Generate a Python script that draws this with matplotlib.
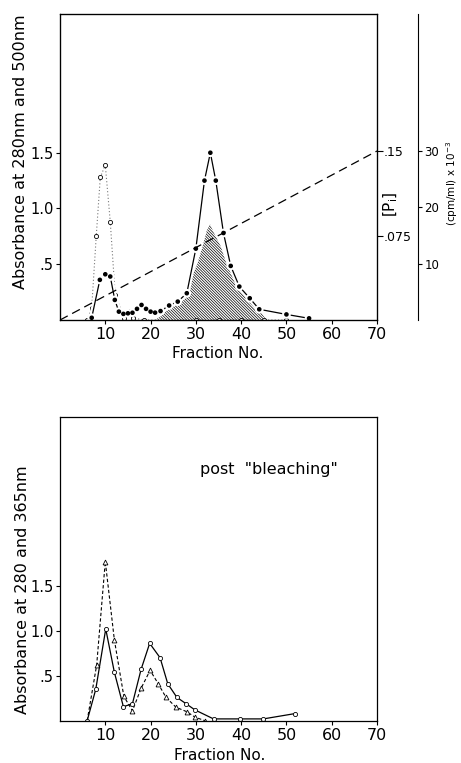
import matplotlib.pyplot as plt
import matplotlib.patheffects as pe

plt.rcParams['font.family'] = ['DejaVu Sans']
plt.rcParams['hatch.linewidth'] = 0.5

# upper panel: absorbance 280nm (filled dots), 500nm (open circles)
frac_280 = [7, 8.8, 10, 11.1, 12.1, 13, 14, 15, 16, 17, 18, 19, 20, 21, 22.2, 24.1,
            26, 28, 30, 31.9, 33.2, 34.4, 36.1, 37.7, 39.6, 41.9, 44, 50, 55]
abs_280 = [0.02, 0.36, 0.41, 0.39, 0.18, 0.075, 0.055, 0.06, 0.065, 0.1, 0.135, 0.1,
           0.075, 0.066, 0.08, 0.13, 0.165, 0.24, 0.64, 1.25, 1.5, 1.25, 0.78, 0.485,
           0.30, 0.195, 0.096, 0.05, 0.015]
frac_500 = [6, 7, 8, 8.9, 10, 11.1, 12.2, 14.2, 15.4, 16.1, 18.5, 30, 35, 40, 45, 50]
abs_500 = [0.0, 0.11, 0.75, 1.28, 1.39, 0.88, 0.22, 0.02, 0.08, 0.02, 0.0, 0, 0, 0, 0, 0]
# radioactivity peak (hatched), drawn in absorbance scale
frac_cpm = [21, 22.5, 24.4, 26, 28, 30.3, 31.5, 32.4, 33.1, 34, 35.5, 36.8, 39, 41.2,
            43, 44.5, 45.6]
cpm_peak = [0, 0.04, 0.12, 0.18, 0.28, 0.5, 0.66, 0.8, 0.86, 0.78, 0.66, 0.5, 0.32, 0.2,
            0.11, 0.06, 0]
# phosphate gradient
frac_grad = [0, 70]
pi_grad = [0, 0.15]

# lower panel: post "bleaching"
frac_b280 = [6, 7.9, 10.1, 12, 14, 16, 17.9, 19.8, 22.1, 23.8, 25.8, 27.8, 29.8, 33.9,
             39.7, 44.9, 52]
abs_b280 = [0, 0.35, 1.02, 0.54, 0.155, 0.19, 0.57, 0.86, 0.7, 0.41, 0.26, 0.19, 0.12,
            0.02, 0.02, 0.02, 0.08]
frac_b365 = [6, 8.1, 10, 12, 14.1, 16, 17.9, 19.9, 21.7, 23.4, 25.6, 28, 29.8, 32]
abs_b365 = [0, 0.62, 1.77, 0.9, 0.27, 0.11, 0.36, 0.56, 0.41, 0.26, 0.15, 0.1, 0.04, 0]

xticks = [10, 20, 30, 40, 50, 60, 70]
yticks = [0.5, 1.0, 1.5]
ylabels = ['.5', '1.0', '1.5']

fig = plt.figure(figsize=(4.61, 7.63), dpi=100)
W, H = 461, 763

def style(ax, ymax):
    ax.set_xlim(0, 70)
    ax.set_ylim(0, ymax)
    ax.set_xticks(xticks)
    ax.set_yticks(yticks)
    ax.set_yticklabels(ylabels)
    ax.tick_params(direction='out', length=3, width=0.8, pad=2)
    ax.tick_params(axis='x', labelsize=11.5)
    ax.tick_params(axis='y', labelsize=10.5, pad=1.5)
    for s in ax.spines.values():
        s.set_linewidth(0.9)

# ---- upper panel
ax1 = fig.add_axes([60 / W, 1 - 320 / H, 317 / W, 306 / H])
style(ax1, 2.744)
ax1.fill_between(frac_cpm, 0, cpm_peak, facecolor='white', edgecolor='black',
                 hatch='\\' * 12, linewidth=0)
ax1.plot(frac_500, abs_500, linestyle=(0, (1, 2)), color='#777777', lw=0.8,
         marker='o', mfc='white', mec='black', ms=3, mew=0.6)
ax1.plot(frac_280, abs_280, color='black', lw=0.9, marker='o', ms=2.3,
         path_effects=[pe.Stroke(linewidth=4, foreground='white'), pe.Normal()])

axp = ax1.twinx()
axp.set_ylim(0, 0.2716)
axp.set_yticks([0.075, 0.15])
axp.set_yticklabels(['.075', '.15'])
axp.tick_params(direction='out', length=4, width=0.8, labelsize=9, pad=1)
axp.plot(frac_grad, pi_grad, color='black', lw=0.9, linestyle=(0, (7, 4)))
axp.set_xlim(0, 70)

axc = ax1.twinx()
axc.spines['right'].set_position(('axes', 1.128))
for s in ['top', 'left', 'bottom']:
    axc.spines[s].set_visible(False)
axc.set_ylim(0, 54.3)
axc.set_yticks([10, 20, 30])
axc.tick_params(direction='out', length=3, width=0.8, labelsize=8.5, pad=2)

fig.text(21 / W, 1 - 152 / H, 'Absorbance at 280nm and 500nm', rotation=90,
         ha='center', va='center', fontsize=11.5)
fig.text(218 / W, 1 - 354 / H, 'Fraction No.', ha='center', va='center', fontsize=11)
fig.text(391 / W, 1 - 204 / H, r'[P$_\mathregular{i}$]', rotation=90,
         ha='center', va='center', fontsize=11)
fig.text(452 / W, 1 - 183 / H, r'(cpm/ml) x 10$^{-3}$', rotation=90,
         ha='center', va='center', fontsize=7.5)

# ---- lower panel
ax2 = fig.add_axes([60 / W, 1 - 720.7 / H, 317 / W, 304 / H])
style(ax2, 3.38)
ax2.plot(frac_b365, abs_b365, color='black', lw=0.8, linestyle=(0, (3, 2)),
         marker='^', mfc='white', mec='black', ms=3.5, mew=0.6)
ax2.plot(frac_b280, abs_b280, color='black', lw=0.9,
         marker='o', mfc='white', mec='black', ms=3, mew=0.6)
ax2.text(31, 2.79, 'post  "bleaching"', ha='left', va='center', fontsize=11.5)

fig.text(23 / W, 1 - 590 / H, 'Absorbance at 280 and 365nm', rotation=90,
         ha='center', va='center', fontsize=11.5)
fig.text(220 / W, 1 - 755 / H, 'Fraction No.', ha='center', va='center', fontsize=11)

fig.savefig('out.png', dpi=100)
